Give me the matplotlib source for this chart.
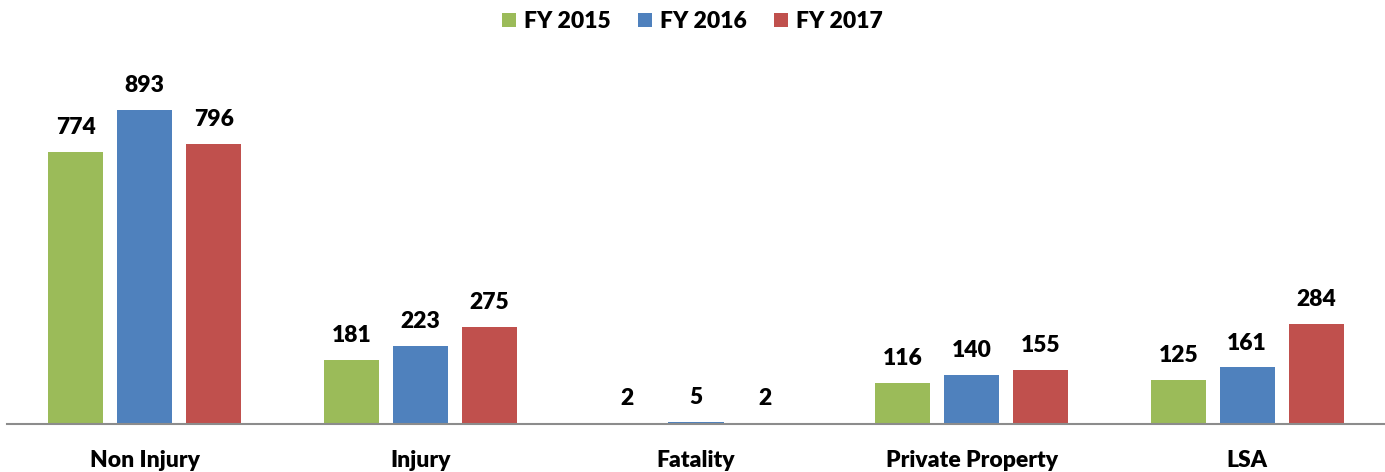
import matplotlib
matplotlib.use("Agg")
from matplotlib import pyplot as plt
import numpy as np

categories = ["Non Injury", "Injury", "Fatality", "Private Property", "LSA"]
series_names = ["FY 2015", "FY 2016", "FY 2017"]
fy2015 = [774, 181, 2, 116, 125]
fy2016 = [893, 223, 5, 140, 161]
fy2017 = [796, 275, 2, 155, 284]
colors = ["#9BBB59", "#4F81BD", "#C0504D"]

plt.rcParams['font.family'] = ['Lato', 'DejaVu Sans']

fig = plt.figure(figsize=(13.85, 4.72), dpi=100)
ax = fig.add_axes([7 / 1385, 48 / 472, 1378 / 1385, 351.6 / 472])

x = np.arange(len(categories))
width = 0.2
step = 0.25
for i, (name, vals) in enumerate(zip(series_names, [fy2015, fy2016, fy2017])):
    pos = x + (i - 1) * step
    bars = ax.bar(pos, vals, width, color=colors[i], label=name)
    for b, v in zip(bars, vals):
        ax.annotate(str(v), (b.get_x() + b.get_width() / 2, v),
                    xytext=(0, 10), textcoords="offset points",
                    ha="center", va="bottom", fontsize=16.5, fontweight="heavy")

ax.set_xlim(-0.5, 4.5)
ax.set_ylim(0, 1000)
ax.set_xticks(x)
ax.set_xticklabels(categories, fontsize=16.5, fontweight="heavy")
ax.tick_params(axis="x", length=0, pad=19)
ax.set_yticks([])
for s in ["top", "right", "left"]:
    ax.spines[s].set_visible(False)
ax.spines["bottom"].set_color("#8C8C8C")
ax.spines["bottom"].set_linewidth(1.5)

leg = fig.legend(loc="upper center", bbox_to_anchor=(0.5, 1.02), ncol=3,
                 frameon=False, prop={"size": 16.5, "weight": "heavy"},
                 handlelength=0.6, handleheight=0.6, columnspacing=1.2,
                 handletextpad=0.35)

fig.savefig("out.png", dpi=100)
